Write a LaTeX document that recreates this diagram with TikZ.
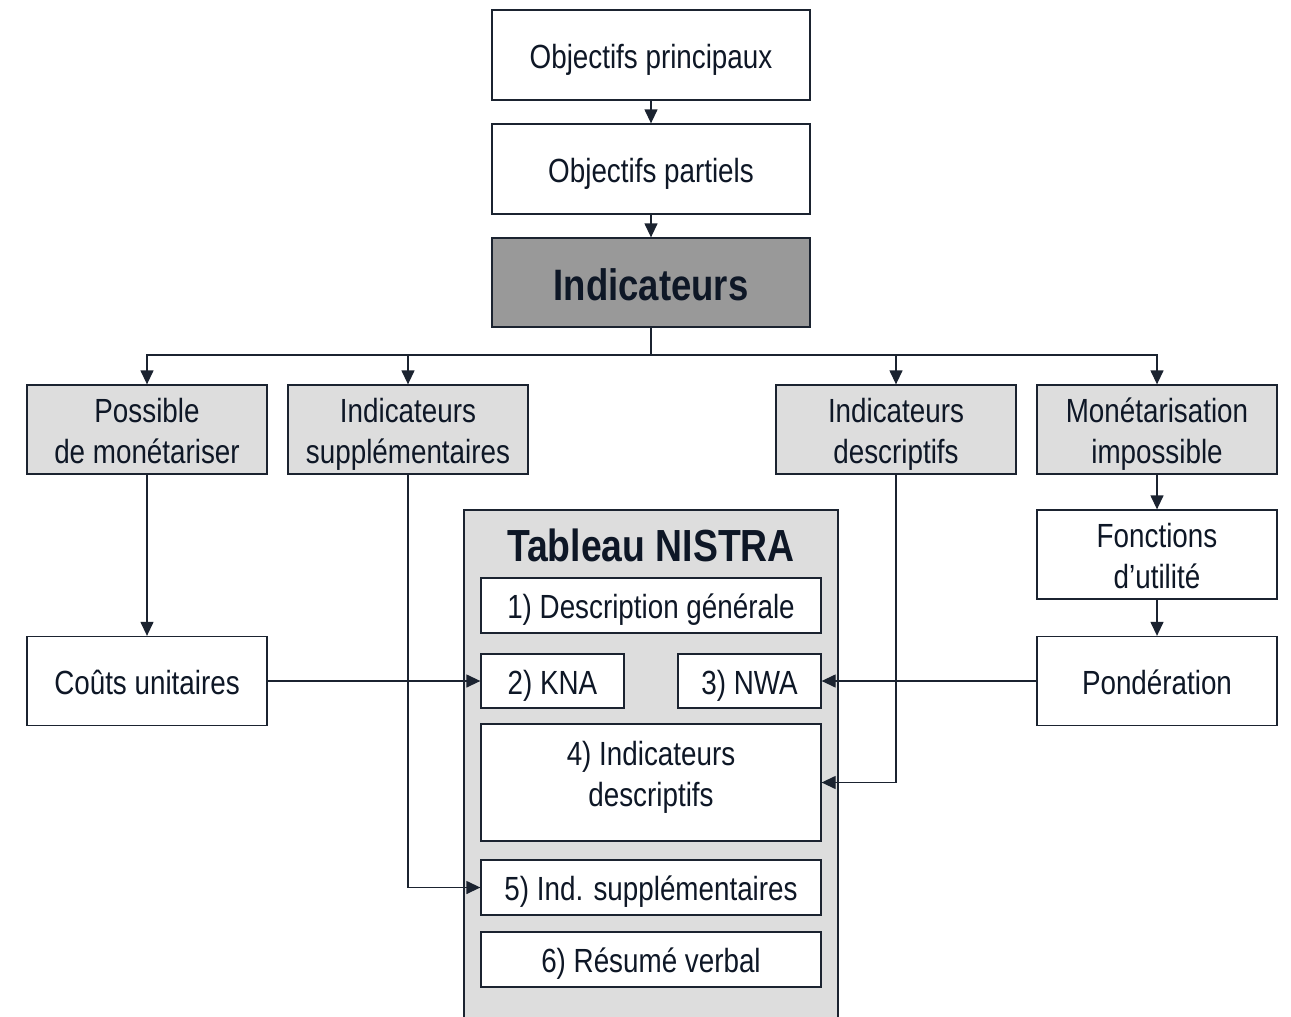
\documentclass[tikz,border=0pt]{standalone}
\usepackage{fontspec}
\setmainfont{Liberation Sans}[FakeStretch=0.83]
\usetikzlibrary{arrows.meta}
\definecolor{ln}{HTML}{1B2330}
\definecolor{tx}{HTML}{0E1726}
\definecolor{lgray}{HTML}{DDDDDD}
\definecolor{dgray}{HTML}{999999}
\begin{document}
\begin{tikzpicture}[x=1pt,y=-1pt,
  box/.style={draw=ln, line width=1.3pt, fill=white, text=tx, inner sep=0pt, align=center,
    font=\fontsize{33.5}{41}\selectfont, text height=33.8pt, text depth=7.2pt},
  twoline/.style={text height=74.8pt, text depth=7.2pt},
  lbox/.style={box, fill=lgray},
  arr/.style={draw=ln, line width=1.3pt, -{Triangle[length=14pt,width=13pt]}},
  con/.style={draw=ln, line width=1.3pt}]
\useasboundingbox (0,0) rectangle (1291,1017);
\clip (0,0) rectangle (1291,1017);
% top chain
\node[box, minimum width=318pt, minimum height=90pt] (op) at (651,55) {Objectifs principaux};
\node[box, minimum width=318pt, minimum height=90pt] (opart) at (651,169) {Objectifs partiels};
\node[box, fill=dgray, minimum width=318pt, minimum height=89pt, font=\fontsize{44}{50}\selectfont\bfseries, text height=40pt, text depth=5pt] (ind) at (651,282.5) {Indicateurs};
% second row
\node[lbox, twoline, minimum width=240pt, minimum height=89pt] (pm) at (147,429.5) {Possible\\de monétariser};
\node[lbox, twoline, minimum width=240pt, minimum height=89pt] (is) at (408,429.5) {Indicateurs\\supplémentaires};
\node[lbox, twoline, minimum width=240pt, minimum height=89pt] (id) at (896,429.5) {Indicateurs\\descriptifs};
\node[lbox, twoline, minimum width=240pt, minimum height=89pt] (mi) at (1157,429.5) {Monétarisation\\impossible};
% right column
\node[box, twoline, minimum width=240pt, minimum height=89pt] (fu) at (1157,554.5) {Fonctions\\d’utilité};
\node[box, minimum width=240pt, minimum height=89pt] (pond) at (1157,681) {Pondération};
% left
\node[box, minimum width=240pt, minimum height=89pt] (cu) at (147,681) {Coûts unitaires};
% NISTRA container
\node[lbox, minimum width=374pt, minimum height=540pt] (nis) at (651,780) {};
\node[text=tx, font=\fontsize{45}{50}\selectfont\bfseries, inner sep=0pt, anchor=base] (title) at (651,561.5) {Tableau NISTRA};
\node[box, minimum width=340pt, minimum height=55pt] (d1) at (651,605.5) {1) Description générale};
\node[box, minimum width=143pt, minimum height=54pt] (kna) at (552.5,681) {2) KNA};
\node[box, minimum width=143pt, minimum height=54pt] (nwa) at (749.5,681) {3) NWA};
\node[box, text height=74.8pt, text depth=26.4pt, minimum width=340pt, minimum height=117pt] (d4) at (651,782.5) {4) Indicateurs\\descriptifs};
\node[box, minimum width=340pt, minimum height=55pt] (d5) at (651,887.5) {5) Ind. supplémentaires};
\node[box, minimum width=340pt, minimum height=55pt] (d6) at (651,959.5) {6) Résumé verbal};
% connectors
\coordinate (bus) at (651,355);
\draw[arr] (op.south) -- (opart.north);
\draw[arr] (opart.south) -- (ind.north);
\draw[con] (ind.south) -- (bus);
\draw[arr] (bus) -| (pm.north);
\draw[arr] (bus) -| (is.north);
\draw[arr] (bus) -| (id.north);
\draw[arr] (bus) -| (mi.north);
\draw[arr] (pm.south) -- (cu.north);
\draw[arr] (is.south) |- (d5.west);
\draw[arr] (id.south) |- (d4.east);
\draw[arr] (mi.south) -- (fu.north);
\draw[arr] (fu.south) -- (pond.north);
\draw[arr] (cu.east) -- (kna.west);
\draw[arr] (pond.west) -- (nwa.east);
\end{tikzpicture}
\end{document}
